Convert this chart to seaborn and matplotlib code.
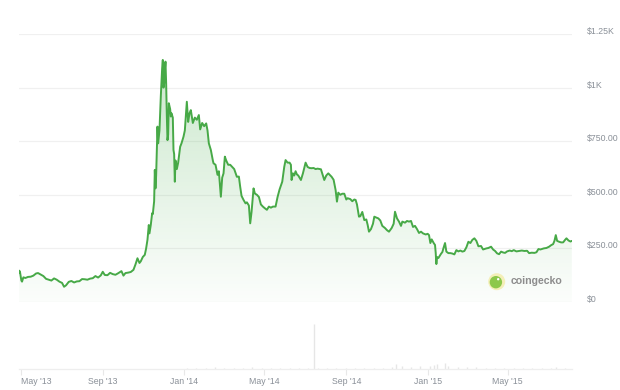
import matplotlib
matplotlib.use("Agg")
import matplotlib.pyplot as plt
import matplotlib.dates as mdates
from matplotlib.patches import Circle
from matplotlib.transforms import ScaledTranslation
import numpy as np
import pandas as pd
import seaborn as sns

# ---------------- data ----------------
dates = [
    "2013-04-28", "2013-04-29", "2013-04-30", "2013-05-02", "2013-05-03", "2013-05-05", "2013-05-08",
    "2013-05-12", "2013-05-16", "2013-05-20", "2013-05-24", "2013-05-27", "2013-05-31", "2013-06-04",
    "2013-06-08", "2013-06-12", "2013-06-16", "2013-06-20", "2013-06-24", "2013-06-28", "2013-07-02",
    "2013-07-05", "2013-07-08", "2013-07-12", "2013-07-16", "2013-07-20", "2013-07-24", "2013-07-28",
    "2013-08-01", "2013-08-05", "2013-08-09", "2013-08-13", "2013-08-17", "2013-08-21", "2013-08-25",
    "2013-08-29", "2013-09-01", "2013-09-04", "2013-09-08", "2013-09-12", "2013-09-16", "2013-09-20",
    "2013-09-24", "2013-09-29", "2013-10-02", "2013-10-05", "2013-10-09", "2013-10-13", "2013-10-17",
    "2013-10-20", "2013-10-23", "2013-10-26", "2013-10-28", "2013-10-31", "2013-11-03", "2013-11-05",
    "2013-11-07", "2013-11-09", "2013-11-10", "2013-11-12", "2013-11-14", "2013-11-15", "2013-11-17",
    "2013-11-18", "2013-11-19", "2013-11-20", "2013-11-22", "2013-11-23", "2013-11-25", "2013-11-27",
    "2013-11-29", "2013-11-30", "2013-12-01", "2013-12-02", "2013-12-03", "2013-12-04", "2013-12-05",
    "2013-12-06", "2013-12-07", "2013-12-08", "2013-12-09", "2013-12-11", "2013-12-12", "2013-12-13",
    "2013-12-15", "2013-12-16", "2013-12-17", "2013-12-18", "2013-12-19", "2013-12-21", "2013-12-23",
    "2013-12-26", "2013-12-28", "2013-12-31", "2014-01-02", "2014-01-05", "2014-01-07", "2014-01-09",
    "2014-01-11", "2014-01-14", "2014-01-17", "2014-01-20", "2014-01-23", "2014-01-25", "2014-01-28",
    "2014-01-31", "2014-02-03", "2014-02-05", "2014-02-07", "2014-02-10", "2014-02-13", "2014-02-14",
    "2014-02-17", "2014-02-20", "2014-02-22", "2014-02-25", "2014-02-27", "2014-03-01", "2014-03-03",
    "2014-03-05", "2014-03-08", "2014-03-11", "2014-03-14", "2014-03-17", "2014-03-21", "2014-03-24",
    "2014-03-26", "2014-03-28", "2014-03-31", "2014-04-03", "2014-04-05", "2014-04-08", "2014-04-10",
    "2014-04-12", "2014-04-15", "2014-04-17", "2014-04-20", "2014-04-23", "2014-04-26", "2014-04-29",
    "2014-05-02", "2014-05-05", "2014-05-08", "2014-05-11", "2014-05-14", "2014-05-18", "2014-05-21",
    "2014-05-24", "2014-05-28", "2014-05-31", "2014-06-02", "2014-06-05", "2014-06-08", "2014-06-10",
    "2014-06-11", "2014-06-13", "2014-06-15", "2014-06-17", "2014-06-19", "2014-06-21", "2014-06-25",
    "2014-06-28", "2014-07-02", "2014-07-05", "2014-07-08", "2014-07-11", "2014-07-14", "2014-07-17",
    "2014-07-20", "2014-07-25", "2014-07-30", "2014-08-02", "2014-08-05", "2014-08-08", "2014-08-10",
    "2014-08-13", "2014-08-16", "2014-08-18", "2014-08-20", "2014-08-23", "2014-08-26", "2014-08-29",
    "2014-09-01", "2014-09-03", "2014-09-07", "2014-09-10", "2014-09-13", "2014-09-15", "2014-09-17",
    "2014-09-20", "2014-09-22", "2014-09-25", "2014-09-28", "2014-10-01", "2014-10-03", "2014-10-05",
    "2014-10-08", "2014-10-11", "2014-10-13", "2014-10-15", "2014-10-19", "2014-10-22", "2014-10-25",
    "2014-10-29", "2014-11-01", "2014-11-04", "2014-11-08", "2014-11-11", "2014-11-13", "2014-11-16",
    "2014-11-19", "2014-11-22", "2014-11-24", "2014-11-28", "2014-12-01", "2014-12-04", "2014-12-07",
    "2014-12-10", "2014-12-13", "2014-12-16", "2014-12-19", "2014-12-22", "2014-12-25", "2014-12-29",
    "2015-01-01", "2015-01-03", "2015-01-05", "2015-01-07", "2015-01-10", "2015-01-12", "2015-01-13",
    "2015-01-14", "2015-01-15", "2015-01-17", "2015-01-19", "2015-01-21", "2015-01-23", "2015-01-25",
    "2015-01-27", "2015-01-29", "2015-02-01", "2015-02-04", "2015-02-07", "2015-02-10", "2015-02-13",
    "2015-02-16", "2015-02-19", "2015-02-22", "2015-02-25", "2015-02-28", "2015-03-03", "2015-03-06",
    "2015-03-09", "2015-03-12", "2015-03-15", "2015-03-18", "2015-03-22", "2015-03-25", "2015-03-30",
    "2015-04-02", "2015-04-06", "2015-04-09", "2015-04-12", "2015-04-15", "2015-04-18", "2015-04-21",
    "2015-04-24", "2015-04-27", "2015-04-30", "2015-05-04", "2015-05-07", "2015-05-10", "2015-05-14",
    "2015-05-18", "2015-05-22", "2015-05-26", "2015-05-30", "2015-06-02", "2015-06-06", "2015-06-10",
    "2015-06-13", "2015-06-16", "2015-06-19", "2015-06-24", "2015-06-28", "2015-07-02", "2015-07-05",
    "2015-07-08", "2015-07-10", "2015-07-12", "2015-07-14", "2015-07-17", "2015-07-20", "2015-07-23",
    "2015-07-26", "2015-07-28", "2015-07-31", "2015-08-03", "2015-08-05",
]
prices = [
    135, 146, 139, 100, 95, 115, 112,
    117, 118, 123, 133, 135, 128, 121,
    108, 104, 100, 110, 104, 95, 89,
    71, 78, 94, 98, 91, 96, 97,
    107, 106, 104, 109, 111, 121, 114,
    124, 141, 126, 125, 136, 130, 127,
    134, 144, 123, 135, 137, 140, 150,
    175, 204, 182, 190, 210, 220, 250,
    290, 359, 320, 360, 414, 410, 470,
    616, 530, 590, 818, 740, 800, 960,
    1090, 1129, 1000, 1020, 1080, 1121, 1020,
    870, 755, 780, 927, 900, 865, 880,
    860, 709, 690, 561, 660, 620, 650,
    724, 740, 771, 800, 934, 840, 880,
    895, 835, 860, 850, 872, 805, 835,
    820, 833, 800, 740, 709, 660, 647,
    640, 593, 610, 491, 580, 600, 678,
    660, 640, 640, 630, 620, 584, 585,
    537, 495, 476, 460, 465, 450, 367,
    420, 530, 506, 500, 490, 455, 445,
    437, 430, 445, 440, 445, 445, 490,
    525, 561, 630, 662, 650, 650, 640,
    569, 600, 590, 610, 595, 590, 569,
    600, 650, 630, 625, 624, 625, 620,
    622, 619, 569, 590, 600, 590, 584,
    570, 522, 468, 510, 500, 505, 505,
    478, 484, 480, 470, 478, 476, 455,
    398, 400, 420, 382, 385, 360, 328,
    340, 365, 398, 395, 390, 380, 355,
    345, 335, 328, 345, 365, 421, 390,
    375, 355, 375, 370, 378, 375, 378,
    350, 355, 340, 322, 328, 320, 315,
    318, 312, 275, 292, 275, 266, 230,
    177, 210, 205, 215, 225, 233, 255,
    275, 235, 228, 228, 226, 222, 242,
    236, 240, 235, 238, 255, 281, 275,
    290, 297, 285, 260, 261, 245, 250,
    252, 258, 245, 238, 227, 223, 235,
    231, 229, 236, 240, 237, 242, 236,
    238, 240, 238, 239, 228, 230, 229,
    232, 247, 245, 250, 252, 258, 265,
    270, 285, 312, 285, 281, 278, 278,
    290, 297, 287, 282, 285,
]

vol_dates = [
    "2014-01-05", "2014-01-19", "2014-02-02", "2014-02-16", "2014-03-02", "2014-03-16", "2014-03-30",
    "2014-04-13", "2014-04-27", "2014-05-11", "2014-05-25", "2014-06-08", "2014-06-22", "2014-07-06",
    "2014-07-14", "2014-07-20", "2014-08-03", "2014-08-17", "2014-08-31", "2014-09-14", "2014-09-28",
    "2014-10-12", "2014-10-26", "2014-11-09", "2014-11-14", "2014-11-23", "2014-12-07", "2014-12-21",
    "2015-01-04", "2015-01-11", "2015-01-15", "2015-01-27", "2015-02-01", "2015-02-15", "2015-03-01",
    "2015-03-15", "2015-03-29", "2015-04-12", "2015-04-26", "2015-05-10", "2015-05-24", "2015-06-07",
    "2015-06-21", "2015-07-05", "2015-07-12", "2015-07-26",
]
volumes = [
    3, 2, 3, 4, 3, 2, 3,
    4, 2, 2, 3, 3, 2, 2,
    100, 2, 2, 3, 2, 2, 3,
    3, 3, 5, 12, 6, 5, 6,
    7, 8, 11, 13, 6, 5, 4,
    4, 3, 3, 3, 2, 2, 2,
    3, 3, 4, 3,
]

y_ticks = [0, 250, 500, 750, 1000, 1250]
y_labels = ["$0", "$250.00", "$500.00", "$750.00", "$1K", "$1.25K"]
x_tick_dates = ["2013-05-01", "2013-09-01", "2014-01-01", "2014-05-01",
                "2014-09-01", "2015-01-01", "2015-05-01"]
x_labels = ["May '13", "Sep '13", "Jan '14", "May '14", "Sep '14", "Jan '15", "May '15"]

# ---------------- styling ----------------
sns.set_theme(style="white")
plt.rcParams['font.family'] = ['Liberation Sans', 'DejaVu Sans']

LINE = "#47a947"
TEXT = "#8a9098"
GRID = "#f0f0f0"

df = pd.DataFrame({"date": pd.to_datetime(dates), "price": prices})
vdf = pd.DataFrame({"date": pd.to_datetime(vol_dates), "volume": volumes})

W, H = 620, 390
fig = plt.figure(figsize=(W / 100, H / 100), dpi=100)
fig.patch.set_facecolor("white")


def rect(x0, y0, x1, y1):
    return [x0 / W, 1 - y1 / H, (x1 - x0) / W, (y1 - y0) / H]


ax = fig.add_axes(rect(18.7, 34, 571.8, 302))
axv = fig.add_axes(rect(18.7, 324, 571.8, 369))

xmin = pd.Timestamp("2013-04-28")
xmax = pd.Timestamp("2015-08-05")

# gradient fill under the line
poly = ax.fill_between(df["date"], df["price"], 0, facecolor="none", edgecolor="none")
x0n, x1n = mdates.date2num(xmin), mdates.date2num(xmax)
top = float(max(prices))
n = 256
grad = np.linspace(0, 1, n).reshape(-1, 1)  # 0 at bottom -> 1 at top
base = np.array([76, 175, 80]) / 255.0
rgba = np.zeros((n, 1, 4))
rgba[..., 0] = base[0]
rgba[..., 1] = base[1]
rgba[..., 2] = base[2]
rgba[..., 3] = 0.02 + 0.27 * grad
img = ax.imshow(rgba, extent=[x0n, x1n, 0, top], origin="lower",
                aspect="auto", interpolation="bilinear", zorder=1)
img.set_clip_path(poly.get_paths()[0], transform=ax.transData)

sns.lineplot(data=df, x="date", y="price", ax=ax, color=LINE, linewidth=1.4, zorder=3)

ax.set_xlim(xmin, xmax)
ax.set_ylim(0, 1250)
ax.set_xlabel("")
ax.set_ylabel("")
ax.set_xticks([])
ax.set_yticks(y_ticks)
ax.set_yticklabels(y_labels)
ax.yaxis.tick_right()
ax.tick_params(axis="y", length=0, pad=11, labelsize=6.3, labelcolor=TEXT)
for lab in ax.get_yticklabels():
    lab.set_transform(lab.get_transform() + ScaledTranslation(0, 3.5 / 100, fig.dpi_scale_trans))
ax.grid(axis="y", color=GRID, linewidth=0.9)
ax.set_axisbelow(True)
for s in ax.spines.values():
    s.set_visible(False)
ax.patch.set_alpha(0)

# volume panel
axv.vlines(vdf["date"], 0, vdf["volume"], color="#e6e6e6", linewidth=1.0)
axv.set_xlim(xmin, xmax)
axv.set_ylim(0, 100)
axv.set_yticks([])
axv.set_xticks(pd.to_datetime(x_tick_dates))
axv.set_xticklabels(x_labels)
axv.tick_params(axis="x", length=4.5, width=0.8, color="#e8e8e8", pad=1.5,
                labelsize=6.3, labelcolor=TEXT, direction="out", bottom=True)
xl = axv.get_xticklabels()
xl[0].set_horizontalalignment("left")
for s in ["top", "left", "right"]:
    axv.spines[s].set_visible(False)
axv.spines["bottom"].set_color("#eeeeee")
axv.spines["bottom"].set_linewidth(0.9)
axv.patch.set_alpha(0)

# coingecko watermark
cx, cy = 496.7, 281.7
fig.add_artist(Circle((cx / 100, (H - cy) / 100), 0.085, transform=fig.dpi_scale_trans,
                      facecolor="#f4efb8", edgecolor="none", zorder=5))
fig.add_artist(Circle(((cx - 0.8) / 100, (H - cy - 0.5) / 100), 0.062, transform=fig.dpi_scale_trans,
                      facecolor="#8cc84b", edgecolor="none", zorder=6))
fig.add_artist(Circle(((cx + 1.5) / 100, (H - cy + 2.5) / 100), 0.012, transform=fig.dpi_scale_trans,
                      facecolor="white", edgecolor="none", zorder=7))
fig.text(511 / W, 1 - 281.5 / H, "coingecko", fontsize=7.6, fontweight="bold",
         color="#8d8d8d", ha="left", va="center", zorder=8)

fig.savefig("out.png", dpi=100, facecolor="white")
